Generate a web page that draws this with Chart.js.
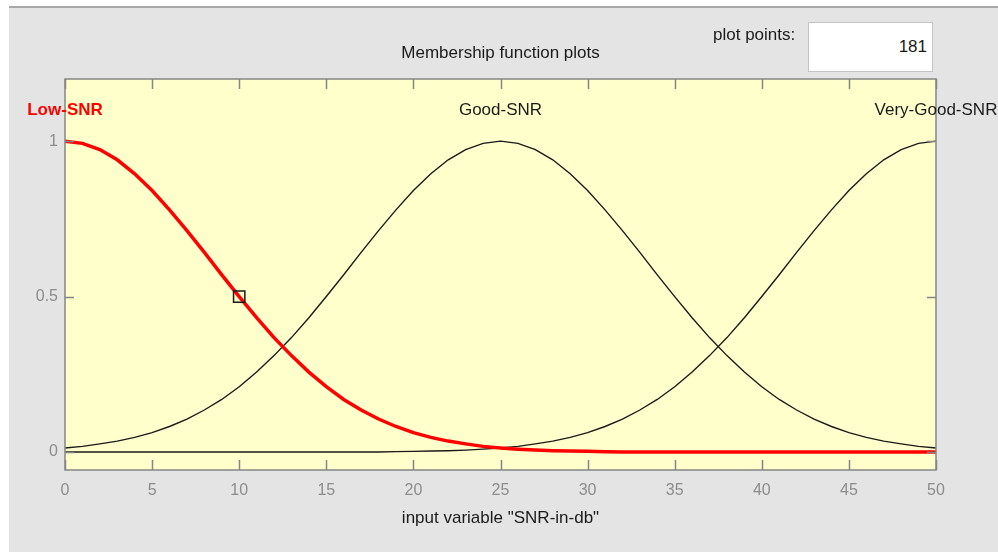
<!DOCTYPE html>
<html>
<head>
<meta charset="utf-8">
<script src="https://cdn.jsdelivr.net/npm/chart.js@4.4.0/dist/chart.umd.min.js"></script>
<style>
	html, body { margin: 0; padding: 0; background: #ffffff; }
	#wrap { position: relative; width: 998px; height: 552px; overflow: hidden; }
	#statsChart { position: absolute; left: 0; top: 0; }
	.ui-text {
		position: absolute;
		font-family: 'Liberation Sans', Arial, sans-serif;
		font-size: 17px;
		color: #1a1a1a;
		white-space: nowrap;
	}
	#pointsBox {
		position: absolute;
		left: 808px; top: 22px;
		width: 125px; height: 50px;
		background: #ffffff;
		border: 1px solid #c4c4c4;
		box-sizing: border-box;
		text-align: right;
		padding-right: 5px;
		line-height: 48px;
		font-family: 'Liberation Sans', Arial, sans-serif;
		font-size: 17px;
		color: #1a1a1a;
	}
</style>
</head>
<body>
<div id="wrap">
	<canvas id="statsChart" width="998" height="552"></canvas>
	<div class="ui-text" style="left: 713px; top: 25px;">plot points:</div>
	<div id="pointsBox">181</div>
</div>
<script>
// Dane (funkcje przynależności)
const xValues = [
	0, 1, 2, 3, 4, 5, 6, 7, 8, 9, 10, 11, 12, 13, 14, 15, 16, 17, 18, 19, 20, 21, 22, 23, 24, 25,
	26, 27, 28, 29, 30, 31, 32, 33, 34, 35, 36, 37, 38, 39, 40, 41, 42, 43, 44, 45, 46, 47, 48, 49, 50,
];
const lowSnr = [
	1.0, 0.993, 0.973, 0.94, 0.895, 0.841, 0.779, 0.712, 0.642, 0.57, 0.5, 0.432, 0.368, 0.31, 0.257, 0.21,
	0.169, 0.135, 0.106, 0.082, 0.062, 0.047, 0.035, 0.026, 0.018, 0.013, 0.009, 0.006, 0.004, 0.003, 0.002,
	0.001, 0, 0, 0, 0, 0, 0, 0, 0, 0, 0, 0, 0, 0, 0, 0, 0, 0, 0, 0,
];
const goodSnr = [
	0.013, 0.018, 0.026, 0.035, 0.047, 0.062, 0.082, 0.106, 0.135, 0.169, 0.21, 0.257, 0.31, 0.368, 0.432, 0.5,
	0.57, 0.642, 0.712, 0.779, 0.841, 0.895, 0.94, 0.973, 0.993, 1.0, 0.993, 0.973, 0.94, 0.895, 0.841, 0.779,
	0.712, 0.642, 0.57, 0.5, 0.432, 0.368, 0.31, 0.257, 0.21, 0.169, 0.135, 0.106, 0.082, 0.062, 0.047, 0.035,
	0.026, 0.018, 0.013,
];
const veryGoodSnr = [
	0, 0, 0, 0, 0, 0, 0, 0, 0, 0, 0, 0, 0, 0, 0, 0, 0, 0, 0, 0.001, 0.002, 0.003, 0.004, 0.006, 0.009, 0.013,
	0.018, 0.026, 0.035, 0.047, 0.062, 0.082, 0.106, 0.135, 0.169, 0.21, 0.257, 0.31, 0.368, 0.432, 0.5, 0.57,
	0.642, 0.712, 0.779, 0.841, 0.895, 0.94, 0.973, 0.993, 1.0,
];
const mfNames = ['Low-SNR', 'Good-SNR', 'Very-Good-SNR'];
const mfCenters = [0, 25, 50];
const mfLabelY = 1.1;
const markerPoint = [{ x: 10, y: 0.5 }];
const xTicks = [0, 5, 10, 15, 20, 25, 30, 35, 40, 45, 50];
const yTicks = [0, 0.5, 1];
const yTickLabels = ['0', '0.5', '1'];

const FONT = "'Liberation Sans', Arial, sans-serif";

function toPoints(ys) {
	return xValues.map((x, i) => ({ x, y: ys[i] }));
}

// Tło okna, obramowanie, kreski podziałki i napisy
const matlabLook = {
	id: 'matlabLook',
	beforeDraw(c) {
		const ctx = c.ctx;
		const a = c.chartArea;
		ctx.save();
		ctx.fillStyle = '#ffffff';
		ctx.fillRect(0, 0, c.width, c.height);
		ctx.fillStyle = '#e4e4e4';
		ctx.fillRect(9, 7, c.width - 9, c.height - 7);
		ctx.fillStyle = '#a8a8a8';
		ctx.fillRect(9, 6, c.width - 9, 2);
		ctx.fillStyle = '#ffffcc';
		ctx.fillRect(a.left, a.top, a.right - a.left, a.bottom - a.top);
		ctx.restore();
	},
	afterDraw(c) {
		const ctx = c.ctx;
		const a = c.chartArea;
		const xs = c.scales.x;
		const ys = c.scales.y;
		ctx.save();
		ctx.strokeStyle = '#858585';
		ctx.lineWidth = 1.5;
		ctx.strokeRect(a.left, a.top, a.right - a.left, a.bottom - a.top);
		ctx.beginPath();
		xTicks.forEach((v) => {
			const px = Math.round(xs.getPixelForValue(v)) + 0.5;
			ctx.moveTo(px, a.bottom);
			ctx.lineTo(px, a.bottom - 10);
			ctx.moveTo(px, a.top);
			ctx.lineTo(px, a.top + 10);
		});
		yTicks.forEach((v) => {
			const py = Math.round(ys.getPixelForValue(v)) + 0.5;
			ctx.moveTo(a.left, py);
			ctx.lineTo(a.left + 9, py);
			ctx.moveTo(a.right, py);
			ctx.lineTo(a.right - 9, py);
		});
		ctx.stroke();

		// nazwy funkcji przynależności
		ctx.textAlign = 'center';
		ctx.textBaseline = 'middle';
		mfNames.forEach((name, i) => {
			ctx.font = i === 0 ? `bold 17px ${FONT}` : `17px ${FONT}`;
			ctx.fillStyle = i === 0 ? '#ff0000' : '#1a1a1a';
			ctx.fillText(name, xs.getPixelForValue(mfCenters[i]), ys.getPixelForValue(mfLabelY));
		});

		ctx.font = `17px ${FONT}`;
		ctx.fillStyle = '#1a1a1a';
		ctx.fillText('Membership function plots', (a.left + a.right) / 2, 53);
		ctx.fillText('input variable "SNR-in-db"', (a.left + a.right) / 2, 518);
		ctx.restore();
	},
};

const ctx = document.getElementById('statsChart').getContext('2d');
const chart = new Chart(ctx, {
	type: 'line',
	data: {
		datasets: [
			{
				label: 'marker',
				data: markerPoint,
				showLine: false,
				pointStyle: 'rect',
				pointRadius: 8,
				pointBorderWidth: 1.5,
				pointBorderColor: '#1a1a1a',
				pointBackgroundColor: 'rgba(0,0,0,0)',
			},
			{
				label: mfNames[0],
				data: toPoints(lowSnr),
				borderColor: '#ff0000',
				borderWidth: 3.5,
				pointRadius: 0,
			},
			{
				label: mfNames[1],
				data: toPoints(goodSnr),
				borderColor: '#1a1a1a',
				borderWidth: 1.4,
				pointRadius: 0,
			},
			{
				label: mfNames[2],
				data: toPoints(veryGoodSnr),
				borderColor: '#1a1a1a',
				borderWidth: 1.4,
				pointRadius: 0,
			},
		],
	},
	options: {
		responsive: false,
		animation: false,
		layout: { padding: { top: 79, right: 62, left: 0, bottom: 0 } },
		plugins: {
			legend: { display: false },
			tooltip: { enabled: false },
		},
		scales: {
			x: {
				type: 'linear',
				min: 0,
				max: 50,
				afterFit: (s) => { s.height = 82; },
				afterBuildTicks: (s) => { s.ticks = xTicks.map((v) => ({ value: v })); },
				grid: { display: false, drawTicks: false },
				border: { display: false },
				ticks: {
					padding: 11,
					color: '#8c8c8c',
					font: { family: FONT, size: 16 },
					maxRotation: 0,
				},
			},
			y: {
				type: 'linear',
				min: -0.058,
				max: 1.2,
				afterFit: (s) => { s.width = 65; },
				afterBuildTicks: (s) => { s.ticks = yTicks.map((v) => ({ value: v })); },
				grid: { display: false, drawTicks: false },
				border: { display: false },
				ticks: {
					padding: 7,
					color: '#8c8c8c',
					font: { family: FONT, size: 16 },
					callback: (v, i) => yTickLabels[i],
				},
			},
		},
	},
	plugins: [matlabLook],
});
</script>
</body>
</html>
